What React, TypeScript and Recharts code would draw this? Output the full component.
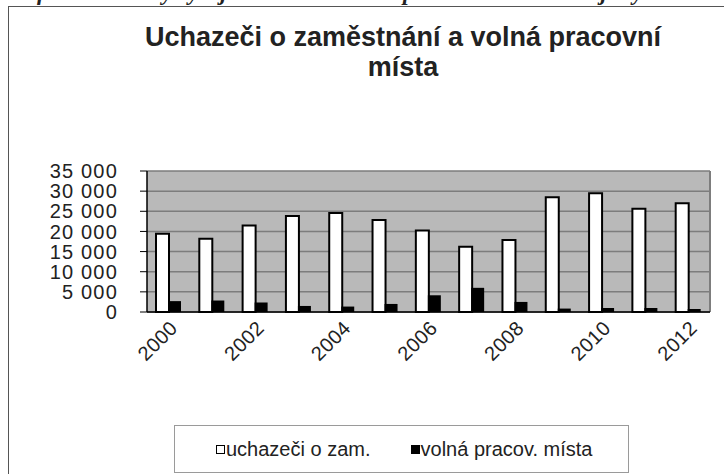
import { BarChart, Bar, XAxis, YAxis, CartesianGrid } from "recharts"

const years = ["2000", "2001", "2002", "2003", "2004", "2005", "2006", "2007", "2008", "2009", "2010", "2011", "2012"]
const uchazeci = [19400, 18200, 21500, 23850, 24600, 22850, 20200, 16200, 17900, 28500, 29500, 25600, 27000]
const volnaMista = [2700, 2850, 2350, 1500, 1350, 2000, 4150, 6000, 2500, 850, 1000, 1000, 750]
const yTicks = [0, 5000, 10000, 15000, 20000, 25000, 30000, 35000]
const boundaryTicks = [0, 1, 2, 3, 4, 5, 6, 7, 8, 9, 10, 11, 12, 13]
const seriesNames = ["uchazeči o zam.", "volná pracov. místa"]

const data = years.map((year, i) => ({ year, uchazeci: uchazeci[i], volna: volnaMista[i] }))

const font = "'Liberation Sans', Arial, sans-serif"

const formatThousands = (v: number) => v.toLocaleString("en-US").replace(/,/g, " ")

const YearTick = (props: any) => {
  const { x, y, payload } = props
  return (
    <text
      x={x + 1}
      y={y}
      transform={`rotate(-45 ${x + 1} ${y})`}
      textAnchor="end"
      fontSize={20}
      fontFamily={font}
      letterSpacing={0.5}
      fill="#222"
      dy={13}
    >
      {payload.value}
    </text>
  )
}

const LegendBox = () => (
  <div
    style={{
      position: "absolute",
      left: 174,
      top: 425,
      width: 455,
      height: 48,
      border: "1px solid #9a9a9a",
      boxSizing: "border-box",
      background: "#fff",
      display: "flex",
      alignItems: "center",
      fontFamily: font,
      fontSize: 20,
      color: "#222",
    }}
  >
    <span style={{ marginLeft: 41, display: "inline-block", width: 7, height: 7, border: "1.5px solid #000", background: "#fff" }} />
    <span style={{ marginLeft: 1 }}>{seriesNames[0]}</span>
    <span style={{ marginLeft: 40, display: "inline-block", width: 9, height: 9, background: "#000" }} />
    <span style={{ marginLeft: 1 }}>{seriesNames[1]}</span>
  </div>
)

export default function App() {
  return (
    <div style={{ position: "absolute", left: 0, top: 0, width: 724, height: 474, overflow: "hidden", background: "#fff" }}>
      <div
        style={{
          position: "absolute",
          left: 0,
          top: -20,
          width: 1000,
          whiteSpace: "nowrap",
          fontFamily: "'Liberation Serif', 'Times New Roman', serif",
          fontStyle: "italic",
          fontWeight: "bold",
          fontSize: 23,
          color: "#222",
        }}
      >
        Graf č. 3: Celkový vývoj uchazečů a volná pracovní místa v Kraji Vysočina
      </div>
      <div style={{ position: "absolute", left: 8, top: 6, width: 720, height: 480, borderLeft: "1.5px solid #555", borderTop: "1.5px solid #555" }} />
      <div
        style={{
          position: "absolute",
          left: 0,
          top: 22,
          width: 806,
          textAlign: "center",
          fontFamily: font,
          fontWeight: "bold",
          fontSize: 27,
          lineHeight: "30px",
          color: "#222",
        }}
      >
        Uchazeči o zaměstnání a volná pracovní
        <br />
        místa
      </div>
      <div style={{ position: "absolute", left: 0, top: 0 }}>
        <BarChart
          width={724}
          height={474}
          data={data}
          margin={{ top: 171, right: 0, left: 0, bottom: 0 }}
          barGap={-1}
          barCategoryGap="20%"
        >
          <CartesianGrid vertical={false} fill="#b9b9b9" stroke="#7d7d7d" strokeWidth={1.5} yAxisId="left" />
          <YAxis
            yAxisId="left"
            width={147}
            domain={[0, 35000]}
            ticks={yTicks}
            interval={0}
            axisLine={{ stroke: "#000", strokeWidth: 1.5 }}
            tickLine={{ stroke: "#000" }}
            tickSize={7}
            tickMargin={22}
            tickFormatter={formatThousands}
            tick={{ fill: "#222", fontSize: 20, fontFamily: font, letterSpacing: 1.2 }}
          />
          <YAxis
            yAxisId="right"
            orientation="right"
            width={14}
            domain={[0, 35000]}
            tick={false}
            tickLine={false}
            axisLine={{ stroke: "#7d7d7d", strokeWidth: 2 }}
          />
          <XAxis
            xAxisId="bounds"
            type="number"
            domain={[0, 13]}
            ticks={boundaryTicks}
            interval={0}
            height={0}
            tick={false}
            axisLine={false}
            tickLine={{ stroke: "#777" }}
            tickSize={5}
          />
          <XAxis
            xAxisId="cat"
            dataKey="year"
            height={162}
            interval={1}
            axisLine={{ stroke: "#000", strokeWidth: 1.5 }}
            tickLine={false}
            tick={<YearTick />}
          />
          <Bar
            xAxisId="cat"
            yAxisId="left"
            dataKey="uchazeci"
            name={seriesNames[0]}
            fill="#fff"
            stroke="#000"
            strokeWidth={2}
            barSize={13}
            isAnimationActive={false}
          />
          <Bar
            xAxisId="cat"
            yAxisId="left"
            dataKey="volna"
            name={seriesNames[1]}
            fill="#000"
            barSize={13}
            isAnimationActive={false}
          />
        </BarChart>
      </div>
      <LegendBox />
    </div>
  )
}
